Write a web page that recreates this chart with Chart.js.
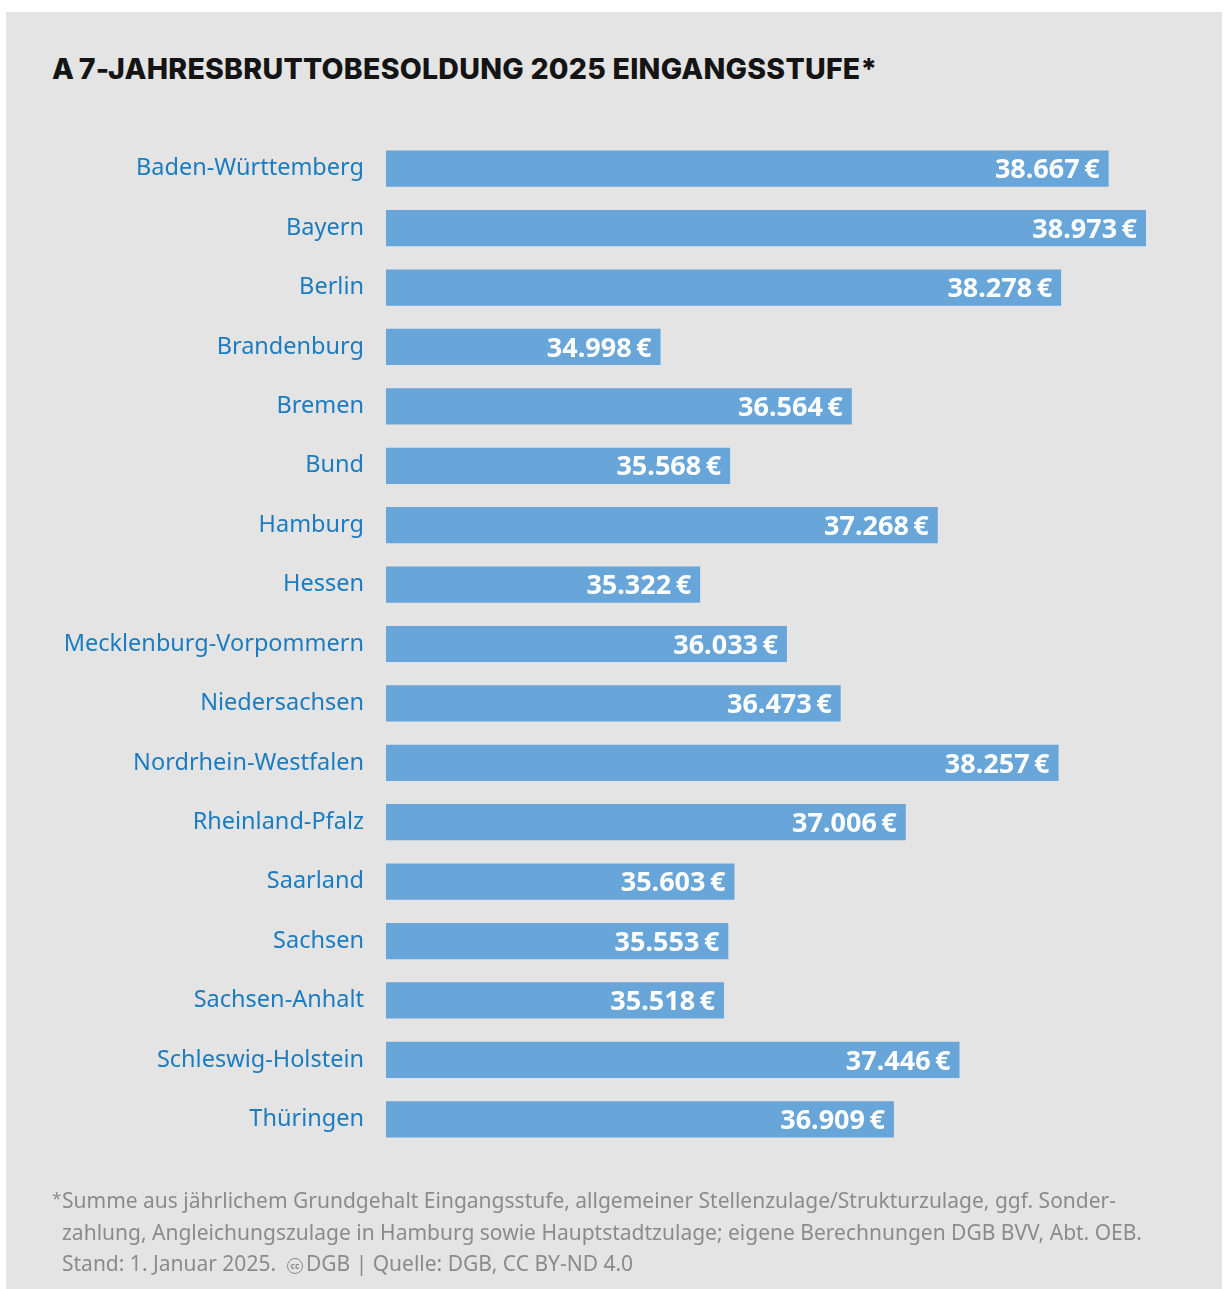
<!DOCTYPE html>
<html>
<head>
<meta charset="utf-8">
<script src="https://cdn.jsdelivr.net/npm/chart.js@4/dist/chart.umd.min.js"></script>
<style>
  html, body { margin: 0; padding: 0; background: #fff; }
  body { width: 1224px; height: 1289px; position: relative; overflow: hidden; }
  .panel { position: absolute; left: 6px; top: 12px; width: 1216px; height: 1290px; background: #e3e4e3; }
  .title { position: absolute; left: 52px; top: 51px; font-family: Inter, sans-serif; font-weight: 800;
           font-size: 28.5px; color: #141414; white-space: nowrap; letter-spacing: 0.25px; }
  .wrap { position: absolute; left: 0; top: 0; width: 1224px; height: 1289px; }
  .note { position: absolute; left: 52px; top: 1185px; font-family: "Noto Sans", sans-serif; font-size: 21px;
          line-height: 31.5px; color: #8b8b8b; white-space: nowrap; }
  .note .ln { padding-left: 10px; }
  .note .star { position: absolute; left: 0; top: -3px; font-size: 17px; }
  .cc { display: inline-block; width: 14px; height: 14px; border: 1.6px solid #8b8b8b; border-radius: 50%;
        font-size: 8.5px; line-height: 14px; text-align: center; font-weight: 700; vertical-align: 2px; margin-right: 3px; }
</style>
</head>
<body>
<div class="panel"></div>
<div class="title">A&#8201;7-JAHRESBRUTTOBESOLDUNG 2025 EINGANGSSTUFE*</div>
<div class="wrap"><canvas id="chart" width="1224" height="1289"></canvas></div>
<div class="note">
  <span class="star">*</span>
  <div class="ln">Summe aus jährlichem Grundgehalt Eingangsstufe, allgemeiner Stellenzulage/Strukturzulage, ggf. Sonder-</div>
  <div class="ln">zahlung, Angleichungszulage in Hamburg sowie Hauptstadtzulage; eigene Berechnungen DGB BVV, Abt. OEB.</div>
  <div class="ln">Stand: 1. Januar 2025.&nbsp; <span class="cc">cc</span>DGB | Quelle: DGB, CC BY-ND 4.0</div>
</div>
<script>
const states = [
  "Baden-Württemberg", "Bayern", "Berlin", "Brandenburg", "Bremen", "Bund", "Hamburg", "Hessen",
  "Mecklenburg-Vorpommern", "Niedersachsen", "Nordrhein-Westfalen", "Rheinland-Pfalz", "Saarland",
  "Sachsen", "Sachsen-Anhalt", "Schleswig-Holstein", "Thüringen"
];
const salaries = [
  38667, 38973, 38278, 34998, 36564, 35568, 37268, 35322,
  36033, 36473, 38257, 37006, 35603, 35553, 35518, 37446, 36909
];
const axisMin = 32750;

const barColor = "#68a5d8";
const labelColor = "#1a7cc1";

function euro(v) {
  return v.toLocaleString("de-DE") + "\u2009€";
}

const valueLabels = {
  id: "valueLabels",
  afterDatasetsDraw(chart) {
    const ctx = chart.ctx;
    const meta = chart.getDatasetMeta(0);
    ctx.save();
    ctx.fillStyle = "#ffffff";
    ctx.font = "bold 27px 'Noto Sans', sans-serif";
    ctx.textAlign = "right";
    ctx.textBaseline = "middle";
    meta.data.forEach((bar, i) => {
      ctx.fillText(euro(salaries[i]), bar.x - 9, bar.y + 2);
    });
    ctx.restore();
  }
};

chart = new Chart(document.getElementById("chart").getContext("2d"), {
  type: "bar",
  data: {
    labels: states,
    datasets: [{
      data: salaries,
      backgroundColor: barColor,
      borderWidth: 0,
      barPercentage: 0.61,
      categoryPercentage: 1.0,
    }]
  },
  options: {
    indexAxis: "y",
    responsive: false,
    animation: false,
    layout: { padding: { top: 139, bottom: 1289 - 1149, left: 0, right: 1224 - 1146 } },
    plugins: { legend: { display: false }, tooltip: { enabled: false } },
    scales: {
      x: {
        display: false,
        min: axisMin,
        max: Math.max(...salaries),
      },
      y: {
        grid: { display: false, drawTicks: false },
        border: { display: false },
        ticks: {
          color: labelColor,
          padding: 22,
          font: { family: "'Noto Sans', sans-serif", size: 23.5 },
        },
        afterFit(scale) { scale.width = 386; }
      }
    }
  },
  plugins: [valueLabels]
});
</script>
</body>
</html>
